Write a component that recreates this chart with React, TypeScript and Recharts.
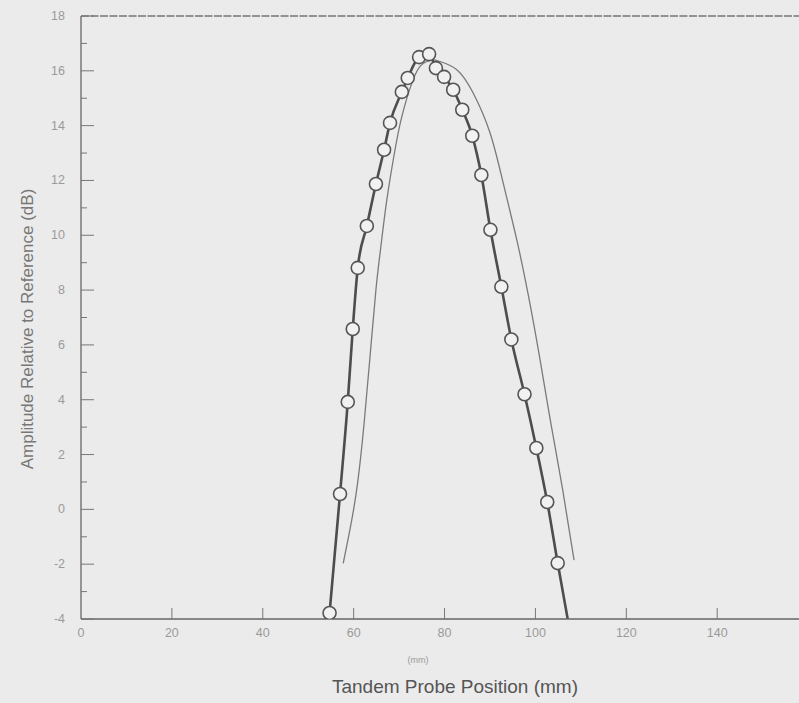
import { ComposedChart, Line, Scatter, XAxis, YAxis, ReferenceLine } from 'recharts';

// measured amplitude (circles)
const measuredX = [54.7, 57.0, 58.7, 59.8, 60.9, 62.9, 64.9, 66.7, 68.0, 70.6, 71.9, 74.4, 76.6, 78.1, 79.9, 81.9, 83.9, 86.1, 88.1, 90.1, 92.5, 94.7, 97.6, 100.2, 102.6, 104.9];
const measuredY = [-3.78, 0.56, 3.92, 6.58, 8.81, 10.34, 11.87, 13.12, 14.1, 15.23, 15.74, 16.5, 16.61, 16.1, 15.78, 15.31, 14.58, 13.63, 12.2, 10.2, 8.12, 6.2, 4.2, 2.24, 0.27, -1.96];

// where the measured curve runs off the bottom axis
const measuredEndX = 107.1;
const measuredEndY = -4;

// thin model curve
const modelX = [57.7, 59.4, 60.9, 62.3, 63.6, 64.9, 65.9, 67.3, 69.1, 70.6, 72.8, 74.6, 76.1, 77.6, 79.0, 82.7, 86.3, 90.0, 92.9, 95.9, 98.5, 100.9, 103.4, 106.0, 108.5];
const modelY = [-1.97, -0.55, 1.0, 3.14, 5.57, 8.01, 9.47, 11.29, 13.12, 14.33, 15.55, 16.16, 16.34, 16.4, 16.34, 16.04, 15.19, 13.74, 11.91, 9.83, 7.76, 5.57, 3.14, 0.71, -1.85];

const xTicks = [0, 20, 40, 60, 80, 100, 120, 140];
const yTicks = [-4, -3, -2, -1, 0, 1, 2, 3, 4, 5, 6, 7, 8, 9, 10, 11, 12, 13, 14, 15, 16, 17, 18];

const measured = measuredX.map((x, i) => ({ x, y: measuredY[i] }));
const measuredLine = [...measured, { x: measuredEndX, y: measuredEndY }];
const model = modelX.map((x, i) => ({ x, y: modelY[i] }));

const tickFont = { fontFamily: 'Liberation Sans, Arial, sans-serif', fontSize: 12.5, fill: '#9a9a9a' };

function YTick(props: any) {
    const { x, y, payload } = props;
    const v = payload.value as number;
    const major = v % 2 === 0;
    return (
        <g>
            <line x1={x} y1={y} x2={x + (major ? 13 : 6)} y2={y} stroke="#777" strokeWidth={1} />
            {major && (
                <text x={x - 16} y={y} dy={4} textAnchor="end" {...tickFont}>
                    {v}
                </text>
            )}
        </g>
    );
}

function XTick(props: any) {
    const { x, y, payload } = props;
    return (
        <g>
            {payload.value !== 0 && <line x1={x} y1={y} x2={x} y2={y - 11} stroke="#777" strokeWidth={1} />}
            <text x={x} y={y + 18} textAnchor="middle" {...tickFont}>
                {payload.value}
            </text>
        </g>
    );
}

function Circle(props: any) {
    const { cx, cy } = props;
    return <circle cx={cx} cy={cy} r={6.5} fill="#f1f1f1" stroke="#555" strokeWidth={1.6} />;
}

export default function App() {
    return (
        <div
            style={{
                position: 'absolute',
                left: 0,
                top: 0,
                width: 799,
                height: 703,
                background: '#ebebeb',
                fontFamily: 'Liberation Sans, Arial, sans-serif',
                overflow: 'hidden',
            }}
        >
            <ComposedChart width={799} height={703} margin={{ top: 16, right: 0, left: 0, bottom: 0 }}>
                <XAxis
                    type="number"
                    dataKey="x"
                    domain={[0, 158]}
                    ticks={xTicks}
                    height={84}
                    tickSize={0}
                    tickMargin={0}
                    tickLine={false}
                    tick={<XTick />}
                    axisLine={{ stroke: '#666', strokeWidth: 1.3 }}
                    allowDataOverflow
                />
                <YAxis
                    type="number"
                    dataKey="y"
                    domain={[-4, 18]}
                    ticks={yTicks}
                    width={81}
                    tickSize={0}
                    tickMargin={0}
                    tickLine={false}
                    tick={<YTick />}
                    axisLine={{ stroke: '#666', strokeWidth: 1.3 }}
                    interval={0}
                    allowDataOverflow
                />
                <ReferenceLine y={18} stroke="#777" strokeWidth={1.3} strokeDasharray="8 1.5" />
                <Line
                    data={model}
                    dataKey="y"
                    type="natural"
                    stroke="#7a7a7a"
                    strokeWidth={1.3}
                    dot={false}
                    isAnimationActive={false}
                />
                <Line
                    data={measuredLine}
                    dataKey="y"
                    type="monotone"
                    stroke="#4d4d4d"
                    strokeWidth={2.6}
                    dot={false}
                    isAnimationActive={false}
                />
                <Scatter data={measured} dataKey="y" shape={<Circle />} isAnimationActive={false} />
            </ComposedChart>
            <div
                style={{
                    position: 'absolute',
                    left: 418,
                    top: 655,
                    transform: 'translateX(-50%)',
                    fontSize: 9,
                    color: '#9a9a9a',
                }}
            >
                (mm)
            </div>
            <div
                style={{
                    position: 'absolute',
                    left: 455,
                    top: 676,
                    transform: 'translateX(-50%)',
                    fontSize: 19,
                    color: '#555',
                    whiteSpace: 'nowrap',
                }}
            >
                Tandem Probe Position (mm)
            </div>
            <div
                style={{
                    position: 'absolute',
                    left: 28,
                    top: 329,
                    transform: 'translate(-50%, -50%) rotate(-90deg)',
                    fontSize: 17,
                    color: '#777',
                    whiteSpace: 'nowrap',
                }}
            >
                Amplitude Relative to Reference (dB)
            </div>
        </div>
    );
}
